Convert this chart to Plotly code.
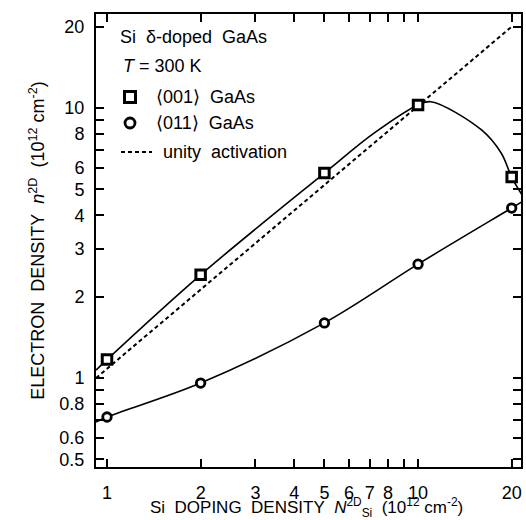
import plotly.graph_objects as go

# ---- data ----
x_doping = [1, 2, 5, 10, 20]
n_001 = [1.17, 2.41, 5.74, 10.26, 5.55]
n_011 = [0.717, 0.958, 1.60, 2.64, 4.26]

fit001_x = [0.922, 1, 2, 5, 7.2, 10, 11.0, 16.0, 18.5, 20, 21.6]
fit001_y = [1.07, 1.17, 2.41, 5.74, 8.05, 10.26, 10.55, 8.29, 6.81, 5.55, 4.76]

fit011_x = [0.922, 1, 2, 5, 10, 20, 21.5]
fit011_y = [0.687, 0.717, 0.958, 1.60, 2.64, 4.26, 4.48]

unity_x = [0.922, 20]
unity_y = [1.0, 20]

x_tickvals = [1, 2, 3, 4, 5, 6, 7, 8, 9, 10, 20]
x_ticktext = ['1', '2', '3', '4', '5', '6', '7', '8', '', '10', '20']
y_tickvals = [0.5, 0.6, 0.7, 0.8, 0.9, 1, 2, 3, 4, 5, 6, 7, 8, 9, 10, 20]
y_ticktext = ['0.5', '0.6', '', '0.8', '', '1', '2', '3', '4', '5', '6', '', '8', '', '10', '20']

FONT = "Liberation Sans, Arial, sans-serif"
NB = "\u00a0"

fig = go.Figure()
fig.add_trace(go.Scatter(x=unity_x, y=unity_y, mode='lines',
                         line=dict(color='black', width=2, dash='4px,3px'),
                         showlegend=False, hoverinfo='skip'))
fig.add_trace(go.Scatter(x=fit001_x, y=fit001_y, mode='lines',
                         line=dict(color='black', width=1.6, shape='spline', smoothing=1.0),
                         showlegend=False, hoverinfo='skip'))
fig.add_trace(go.Scatter(x=fit011_x, y=fit011_y, mode='lines',
                         line=dict(color='black', width=1.6, shape='spline', smoothing=1.0),
                         showlegend=False, hoverinfo='skip'))
fig.add_trace(go.Scatter(x=x_doping, y=n_001, mode='markers', name='⟨001⟩ GaAs',
                         marker=dict(symbol='square', size=9.5, color='white',
                                     line=dict(color='black', width=3)),
                         showlegend=False))
fig.add_trace(go.Scatter(x=x_doping, y=n_011, mode='markers', name='⟨011⟩ GaAs',
                         marker=dict(symbol='circle', size=8.5, color='white',
                                     line=dict(color='black', width=2.8)),
                         showlegend=False))

# plot area in pixels: x 96..521, y 14..467
def px(xp):
    return (xp - 96) / 425.0

def py(yp):
    return (467 - yp) / 453.0

shapes = [
    dict(type='rect', xref='paper', yref='paper', xsizemode='pixel', ysizemode='pixel',
         xanchor=px(130), yanchor=py(97), x0=-5.5, x1=5.5, y0=-5.5, y1=5.5,
         line=dict(color='black', width=3), fillcolor='white'),
    dict(type='circle', xref='paper', yref='paper', xsizemode='pixel', ysizemode='pixel',
         xanchor=px(130), yanchor=py(123), x0=-5, x1=5, y0=-5, y1=5,
         line=dict(color='black', width=2.8), fillcolor='white'),
    dict(type='line', xref='paper', yref='paper', x0=px(121), x1=px(152), y0=py(152), y1=py(152),
         line=dict(color='black', width=2, dash='4px,3px')),
]

ann_font = dict(family=FONT, size=18, color='black')
annotations = [
    dict(text=f"Si{NB}{NB}δ-doped{NB}{NB}GaAs", x=px(118), y=py(37)),
    dict(text="<i>T</i> = 300 K", x=px(121), y=py(66)),
    dict(text=f"⟨001⟩{NB}{NB}GaAs", x=px(154), y=py(97)),
    dict(text=f"⟨011⟩{NB}{NB}GaAs", x=px(154), y=py(123)),
    dict(text=f"unity{NB}{NB}activation", x=px(161), y=py(152)),
]
for a in annotations:
    a.update(xref='paper', yref='paper', xanchor='left', yanchor='middle',
             showarrow=False, font=ann_font)

# x-axis title as an annotation so it can sit exactly where the reference has it
annotations.append(dict(
    text=f"Si{NB}{NB}DOPING{NB}{NB}DENSITY{NB}{NB}<i>N</i><sup>2D</sup><sub>Si</sub>{NB}{NB}(10<sup>12</sup>{NB}cm<sup>-2</sup>)",
    xref='paper', yref='paper', x=px(306), y=py(507), xanchor='center', yanchor='middle',
    showarrow=False, font=dict(family=FONT, size=17, color='black')))

axis_common = dict(type='log', showgrid=False, zeroline=False, showline=True,
                   linecolor='black', linewidth=2, mirror='allticks',
                   ticks='inside', ticklen=8, tickwidth=1.5, tickcolor='black',
                   tickfont=dict(family=FONT, size=18, color='black'))

fig.update_layout(
    width=526, height=520,
    margin=dict(l=96, r=5, t=14, b=53),
    paper_bgcolor='white', plot_bgcolor='white',
    font=dict(family=FONT, size=18, color='black'),
    shapes=shapes, annotations=annotations,
    xaxis=dict(axis_common, range=[-0.0354, 1.331], tickmode='array',
               tickvals=x_tickvals, ticktext=x_ticktext, ticklabelstandoff=8,
               automargin=False),
    yaxis=dict(axis_common, range=[-0.3296, 1.348], tickmode='array',
               tickvals=y_tickvals, ticktext=y_ticktext, ticklabelstandoff=6,
               title=dict(text=f"ELECTRON{NB}{NB}DENSITY{NB}{NB}<i>n</i><sup>2D</sup>{NB}{NB}(10<sup>12</sup>{NB}cm<sup>-2</sup>)",
                          font=dict(family=FONT, size=18, color='black'), standoff=10),
               automargin=False),
)

fig.write_html("out.html", config={'displayModeBar': False},
               post_script="document.body.style.margin='0';document.body.style.overflow='hidden';")
